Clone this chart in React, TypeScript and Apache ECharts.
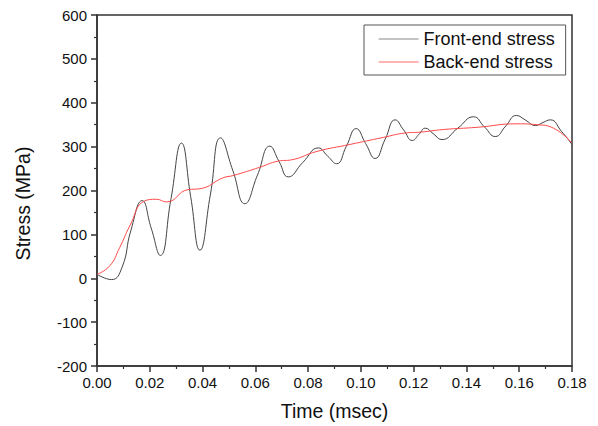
import React, { useEffect, useRef } from "react";
import * as echarts from "echarts";

const xTicks = { min: 0, max: 0.18, interval: 0.02 };
const yTicks = { min: -200, max: 600, interval: 100 };

const frontTime = [
  0, 0.0055, 0.0095, 0.0128, 0.0171, 0.0205, 0.024, 0.028, 0.032, 0.0355, 0.039,
  0.043, 0.0468, 0.0515, 0.056, 0.0608, 0.0655, 0.069, 0.0725, 0.078, 0.0839,
  0.0873, 0.0908, 0.0945, 0.0982, 0.1018, 0.1054, 0.1092, 0.113, 0.1162, 0.1195,
  0.122, 0.1244, 0.1275, 0.1307, 0.1367, 0.1427, 0.1468, 0.1509, 0.1549, 0.1589,
  0.1625, 0.1661, 0.169, 0.1718, 0.176, 0.18,
];
const frontStress = [
  9, -3, 25, 108, 177, 115, 52, 180, 308, 186, 64,
  192, 320, 245, 170, 235, 301, 266, 231, 264, 297,
  279, 261, 301, 341, 307, 273, 317, 361, 338, 314,
  328, 342, 329, 316, 342, 368, 345, 323, 347, 371,
  360, 348, 355, 361, 335, 305,
];

const backTime = [
  0, 0.0048, 0.0086, 0.0124, 0.018, 0.0225, 0.0263, 0.0345, 0.039, 0.0478, 0.0516,
  0.0617, 0.0687, 0.0738, 0.0833, 0.0959, 0.1085, 0.1168, 0.1225, 0.1313, 0.144,
  0.1592, 0.1667, 0.173, 0.18,
];
const backStress = [
  9, 28, 70, 119, 176, 180, 174, 202, 204, 229, 234,
  253, 267, 270, 289, 305, 321, 331, 333, 339, 344,
  352, 350, 342, 308,
];

const seriesNames = ["Front-end stress", "Back-end stress"];

const FONT = "'Liberation Sans', Arial, sans-serif";
const AXIS_COLOR = "#333";
const FRONT_COLOR = "#444";
const BACK_COLOR = "#ff4a4a";

export default function App() {
  const ref = useRef<HTMLDivElement>(null);
  useEffect(() => {
    if (!ref.current) return;
    const chart = echarts.init(ref.current, null, { renderer: "svg" });
    const axisCommon = {
      axisLine: { show: true, onZero: false, lineStyle: { color: AXIS_COLOR, width: 1.5 } },
      axisTick: { show: true, inside: false, length: 6, lineStyle: { color: AXIS_COLOR, width: 1.5 } },
      minorTick: { show: true, splitNumber: 2, length: 3, lineStyle: { color: AXIS_COLOR, width: 1.2 } },
      splitLine: { show: false },
      nameLocation: "middle" as const,
    };
    chart.setOption({
      animation: false,
      backgroundColor: "#fff",
      textStyle: { fontFamily: FONT },
      grid: {
        left: 97,
        right: 26,
        top: 15,
        bottom: 59,
        show: true,
        borderColor: AXIS_COLOR,
        borderWidth: 1.5,
        backgroundColor: "transparent",
      },
      legend: {
        orient: "vertical",
        left: 364,
        top: 25,
        padding: [5, 11, 4, 14],
        itemGap: 5,
        itemWidth: 40,
        itemHeight: 18,
        borderColor: "#555",
        borderWidth: 1,
        itemStyle: { opacity: 0 },
        textStyle: { fontFamily: FONT, fontSize: 18, color: "#111" },
        data: [
          { name: seriesNames[0], itemStyle: { opacity: 0 }, lineStyle: { color: "#888", width: 1.2 } },
          { name: seriesNames[1], itemStyle: { opacity: 0 }, lineStyle: { color: "#ff6a6a", width: 1.2 } },
        ],
      },
      xAxis: {
        type: "value",
        min: xTicks.min,
        max: xTicks.max,
        interval: xTicks.interval,
        name: "Time (msec)",
        nameGap: 35,
        nameTextStyle: { fontFamily: FONT, fontSize: 19.5, color: "#111" },
        ...axisCommon,
        axisLabel: {
          fontFamily: FONT,
          fontSize: 15,
          color: "#111",
          margin: 9,
          formatter: (v: number) => v.toFixed(2),
        },
      },
      yAxis: {
        type: "value",
        min: yTicks.min,
        max: yTicks.max,
        interval: yTicks.interval,
        name: "Stress (MPa)",
        nameGap: 64,
        nameTextStyle: { fontFamily: FONT, fontSize: 19.5, color: "#111", padding: [0, 26, 0, 0] },
        ...axisCommon,
        axisLabel: {
          fontFamily: FONT,
          fontSize: 15,
          color: "#111",
          margin: 10,
        },
      },
      series: [
        {
          name: seriesNames[0],
          type: "line",
          data: frontTime.map((t, i) => [t, frontStress[i]]),
          smooth: 0.5,
          symbol: "none",
          lineStyle: { color: FRONT_COLOR, width: 1 },
          itemStyle: { color: FRONT_COLOR },
          z: 3,
        },
        {
          name: seriesNames[1],
          type: "line",
          data: backTime.map((t, i) => [t, backStress[i]]),
          smooth: 0.5,
          symbol: "none",
          lineStyle: { color: BACK_COLOR, width: 1 },
          itemStyle: { color: BACK_COLOR },
          z: 4,
        },
      ],
    });
    return () => chart.dispose();
  }, []);
  return (
    <div
      ref={ref}
      style={{ position: "fixed", left: 0, top: 0, width: 598, height: 426, background: "#fff" }}
    />
  );
}
